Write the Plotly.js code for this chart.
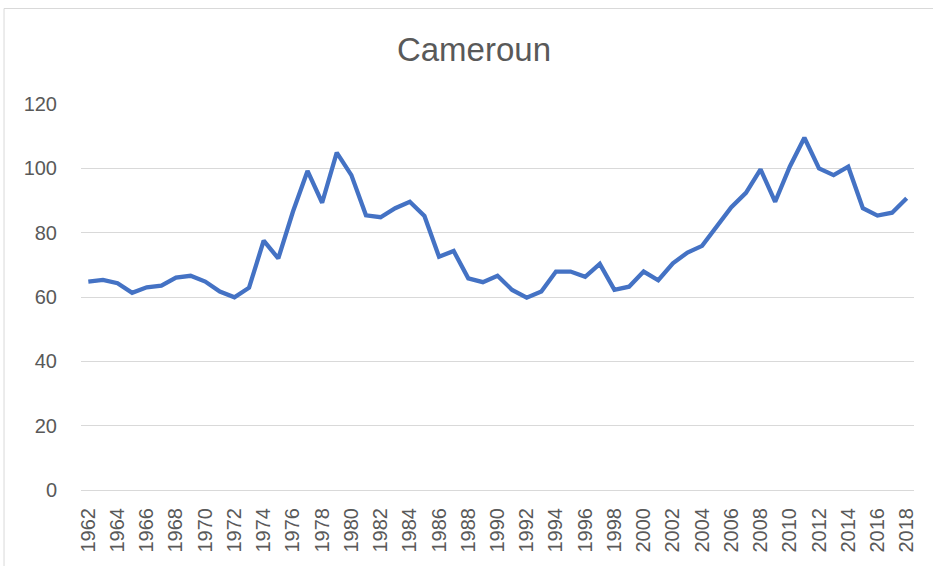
<!DOCTYPE html>
<html>
<head>
<meta charset="utf-8">
<script src="https://cdn.plot.ly/plotly-3.0.1.min.js"></script>
<style>html,body{margin:0;padding:0;background:#fff;}#chart{width:933px;height:566px;}</style>
</head>
<body>
<div id="chart"></div>
<script>
const years = [1962,1963,1964,1965,1966,1967,1968,1969,1970,1971,1972,1973,1974,1975,1976,1977,1978,1979,1980,1981,
  1982,1983,1984,1985,1986,1987,1988,1989,1990,1991,1992,1993,1994,1995,1996,1997,1998,1999,2000,2001,
  2002,2003,2004,2005,2006,2007,2008,2009,2010,2011,2012,2013,2014,2015,2016,2017,2018];
const values = [64.8,65.3,64.3,61.3,63.0,63.5,66.0,66.6,64.8,61.7,59.9,62.9,77.5,72.0,86.5,99.2,89.3,104.9,97.9,85.4,
  84.8,87.6,89.6,85.2,72.5,74.3,65.8,64.6,66.6,62.2,59.8,61.7,67.9,67.9,66.3,70.3,62.2,63.2,67.9,65.2,
  70.5,73.8,75.9,81.9,87.9,92.4,99.7,89.6,100.5,109.5,100.0,97.9,100.5,87.6,85.3,86.2,90.7];
const tickYears = [1962,1964,1966,1968,1970,1972,1974,1976,1978,1980,1982,1984,1986,1988,1990,
  1992,1994,1996,1998,2000,2002,2004,2006,2008,2010,2012,2014,2016,2018];
const yTicks = [0,20,40,60,80,100,120];
const chartTitle = "Cameroun";

const font = "Liberation Sans, Arial, sans-serif";
const trace = {
  x: years, y: values, type: 'scatter', mode: 'lines',
  line: {color: '#4472C4', width: 4.3, shape: 'linear'},
  hoverinfo: 'x+y'
};
const layout = {
  width: 933, height: 566,
  margin: {l: 81, r: 19, t: 104, b: 76},
  paper_bgcolor: '#ffffff', plot_bgcolor: '#ffffff',
  showlegend: false,
  title: {text: chartTitle, font: {family: font, size: 33, color: '#595959'}, x: 0.508, xanchor: 'center', y: 0.912, yanchor: 'middle'},
  xaxis: {
    range: [1961.5, 2018.5], tickvals: tickYears, ticktext: tickYears.map(String),
    tickangle: -90, tickfont: {family: font, size: 20, color: '#595959'},
    showgrid: false, zeroline: false, showline: true, linecolor: '#d9d9d9', linewidth: 1,
    ticks: 'outside', ticklen: 9, tickcolor: 'rgba(0,0,0,0)', fixedrange: true
  },
  yaxis: {
    range: [0, 120], tickvals: yTicks, ticktext: yTicks.map(String),
    tickfont: {family: font, size: 20, color: '#595959'},
    showgrid: true, gridcolor: '#d9d9d9', gridwidth: 1, zeroline: false, showline: false,
    ticks: 'outside', ticklen: 19, tickcolor: 'rgba(0,0,0,0)', fixedrange: true
  },
  shapes: [{
    type: 'rect', xref: 'paper', yref: 'paper',
    x0: -0.0924, x1: 1.2, y0: -0.4, y1: 1.2474,
    line: {color: '#d9d9d9', width: 1}, fillcolor: 'rgba(0,0,0,0)', layer: 'below'
  }]
};
Plotly.newPlot('chart', [trace], layout, {displayModeBar: false, staticPlot: true});
</script>
</body>
</html>
